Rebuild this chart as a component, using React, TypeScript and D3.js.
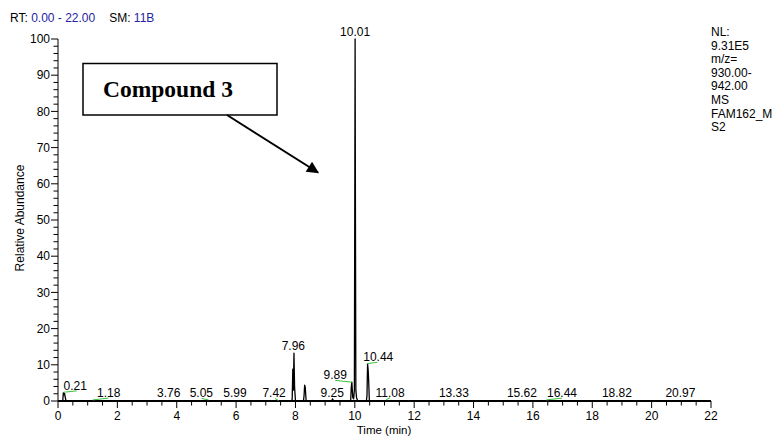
import React from "react";
import * as d3 from "d3";

// ---- data ----
const X_TICKS = [0, 2, 4, 6, 8, 10, 12, 14, 16, 18, 20, 22];
const Y_TICKS = [0, 10, 20, 30, 40, 50, 60, 70, 80, 90, 100];

// chromatogram trace (time in min, relative abundance %)
const TRACE_T = [0, 0.16, 0.18, 0.2, 0.22, 0.24, 0.27, 7.86, 7.89, 7.91, 7.93, 7.95, 7.97, 8.0, 8.27, 8.29, 8.31, 8.33, 8.36, 9.22, 9.25, 9.28, 9.83, 9.86, 9.88, 9.9, 9.93, 9.96, 9.985, 10.0, 10.01, 10.02, 10.035, 10.06, 10.1, 10.39, 10.41, 10.43, 10.45, 10.465, 10.49, 22];
const TRACE_I = [0, 0, 2.3, 1.7, 2.1, 1.2, 0, 0, 0.5, 8.8, 3.0, 13.2, 4.0, 0, 0, 1.5, 4.4, 3.8, 0, 0, 0.6, 0, 0, 0, 3.8, 5.2, 1.0, 0.6, 3, 60, 100, 55, 3, 0.8, 0, 0, 1.5, 10.3, 8.5, 6.0, 0, 0];

// peak labels: text, label anchor time, label centre height
const PEAK_LABELS = ["0.21", "1.18", "3.76", "5.05", "5.99", "7.42", "7.96", "9.25", "9.89", "10.01", "10.44", "11.08", "13.33", "15.62", "16.44", "18.82", "20.97"];
const LABEL_T = [0.58, 1.71, 3.73, 4.83, 5.96, 7.28, 7.93, 9.24, 9.34, 10.01, 10.79, 11.19, 13.34, 15.63, 16.98, 18.83, 20.97];
const LABEL_Y = [4.1, 2.2, 2.2, 2.2, 2.2, 2.2, 15.2, 2.2, 7.3, 102, 12.1, 2.2, 2.2, 2.2, 2.2, 2.2, 2.2];

// green leader segments [t0, y0, t1, y1]
const LEADERS: number[][] = [
  [0.18, 2.4, 0.63, 2.8],
  [1.17, 0.3, 1.7, 0.8],
  [4.84, 0.7, 5.07, 0.3],
  [7.31, 0.7, 7.43, 0.1],
  [9.34, 5.7, 9.9, 5.2],
  [10.4, 10.3, 10.76, 10.7],
  [11.05, 0.3, 11.19, 0.9],
  [16.45, 0.3, 16.98, 0.8],
];

const INFO_LINES = ["NL:", "9.31E5", "m/z=", "930.00-", "942.00", "MS", "FAM162_M", "S2"];

const W = 778;
const H = 437;
const FONT = "Liberation Sans, Arial, sans-serif";

export default function App() {
  const x = d3.scaleLinear().domain([0, 22]).range([58, 711]);
  const y = d3.scaleLinear().domain([0, 100]).range([401, 39]);

  const pts: [number, number][] = TRACE_T.map((t, i) => [t, TRACE_I[i]]);
  const line = d3
    .line<[number, number]>()
    .x((d) => x(d[0]))
    .y((d) => y(d[1]));

  const yMinor = d3.range(0, 100.01, 2).filter((v) => v % 10 !== 0);
  const xMinor = d3.range(0, 22.01, 0.5).filter((v) => v % 2 !== 0);

  return (
    <svg
      width={W}
      height={H}
      viewBox={`0 0 ${W} ${H}`}
      style={{ position: "absolute", left: 0, top: 0, background: "#fff" }}
      fontFamily={FONT}
    >
      <rect x={0} y={0} width={W} height={H} fill="#fff" />
      {/* header */}
      <text x={10} y={21.5} fontSize={12} fill="#000">
        <tspan>RT:</tspan>
        <tspan fill="#2424a0"> 0.00 - 22.00</tspan>
        <tspan dx={14}>SM:</tspan>
        <tspan fill="#2424a0"> 11B</tspan>
      </text>

      {/* info block */}
      {INFO_LINES.map((s, i) => (
        <text key={i} x={711} y={36 + i * 13.6} fontSize={12} fill="#000">
          {s}
        </text>
      ))}

      {/* y axis */}
      <line x1={x(0)} x2={x(0)} y1={y(0)} y2={y(100)} stroke="#000" strokeWidth={1} />
      {Y_TICKS.map((v) => (
        <g key={"yt" + v}>
          <line x1={x(0) - 7} x2={x(0)} y1={y(v)} y2={y(v)} stroke="#000" strokeWidth={1} />
          <text x={50} y={y(v) + 4.2} fontSize={12} textAnchor="end" fill="#000">
            {v}
          </text>
        </g>
      ))}
      {yMinor.map((v) => (
        <line key={"ym" + v} x1={x(0) - 4.5} x2={x(0)} y1={y(v)} y2={y(v)} stroke="#000" strokeWidth={1} />
      ))}

      {/* x axis */}
      <line x1={x(0)} x2={x(22)} y1={y(0)} y2={y(0)} stroke="#000" strokeWidth={2.2} />
      {X_TICKS.map((v) => (
        <g key={"xt" + v}>
          <line x1={x(v)} x2={x(v)} y1={y(0)} y2={y(0) + 7} stroke="#000" strokeWidth={1} />
          <text x={x(v)} y={y(0) + 19} fontSize={12} textAnchor="middle" fill="#000">
            {v}
          </text>
        </g>
      ))}
      {xMinor.map((v) => (
        <line key={"xm" + v} x1={x(v)} x2={x(v)} y1={y(0)} y2={y(0) + 4.5} stroke="#000" strokeWidth={1} />
      ))}

      {/* axis titles */}
      <text x={384} y={434} fontSize={11.5} textAnchor="middle" fill="#000">
        Time (min)
      </text>
      <text
        transform={`translate(24,218) rotate(-90)`}
        fontSize={12}
        textAnchor="middle"
        fill="#000"
      >
        Relative Abundance
      </text>

      {/* trace */}
      <path d={line(pts) ?? ""} fill="none" stroke="#000" strokeWidth={1.3} strokeLinejoin="round" />

      {/* leaders */}
      {LEADERS.map((s, i) => (
        <line key={"ld" + i} x1={x(s[0])} y1={y(s[1])} x2={x(s[2])} y2={y(s[3])} stroke="#3cc03c" strokeWidth={1} />
      ))}

      {/* peak labels */}
      {PEAK_LABELS.map((s, i) => (
        <text key={"pl" + i} x={x(LABEL_T[i])} y={y(LABEL_Y[i]) + 4.3} fontSize={12} textAnchor="middle" fill="#000">
          {s}
        </text>
      ))}

      {/* annotation */}
      <defs>
        <marker id="arrow" viewBox="0 0 10 10" refX={9} refY={5} markerWidth={16} markerHeight={12} markerUnits="userSpaceOnUse" orient="auto">
          <path d="M0,0 L10,5 L0,10 z" fill="#000" />
        </marker>
      </defs>
      <rect x={83} y={63.5} width={194} height={51.5} fill="#fff" stroke="#000" strokeWidth={1.5} />
      <text x={103} y={97} fontSize={23.5} fontWeight="bold" fontFamily="Liberation Serif, Times New Roman, serif" fill="#000">
        Compound 3
      </text>
      <line x1={227} y1={115} x2={318} y2={172.5} stroke="#000" strokeWidth={2} markerEnd="url(#arrow)" />
    </svg>
  );
}
